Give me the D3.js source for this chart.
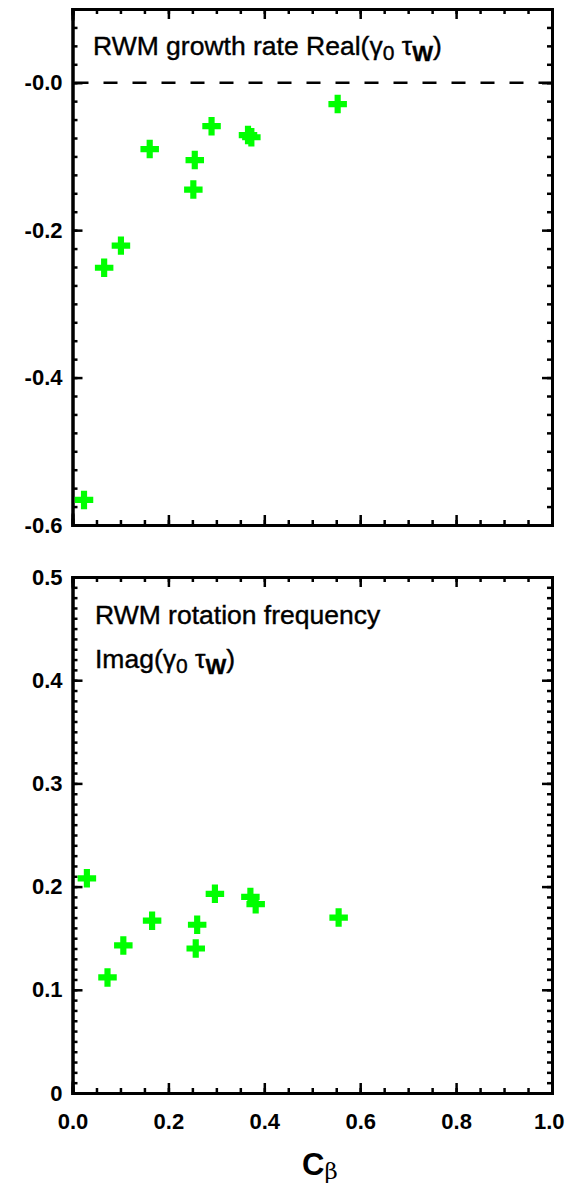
<!DOCTYPE html>
<html>
<head>
  <meta charset="utf-8">
  <title>RWM growth rate and rotation frequency vs C_beta</title>
  <script src="https://d3js.org/d3.v7.min.js"></script>
  <style>
    body { margin: 0; background: #fff; }
    text { font-family: "Liberation Sans", Arial, sans-serif; fill: #000; }
    .tick text { font-size: 22px; font-weight: bold; }
    .title { font-size: 26.5px; stroke: #000; stroke-width: 0.4px; }
    .axis path, .axis line { stroke: #000; }
  </style>
</head>
<body>
<script>
// C_beta values for each panel
const cbetaReal = [0.024, 0.066, 0.101, 0.161, 0.252, 0.255, 0.290, 0.366, 0.373, 0.553];
// Real(gamma0 tauW)
const growthRate = [-0.566, -0.251, -0.221, -0.090, -0.145, -0.105, -0.059, -0.071, -0.074, -0.029];

const cbetaImag = [0.030, 0.073, 0.106, 0.166, 0.257, 0.260, 0.297, 0.371, 0.382, 0.555];
// Imag(gamma0 tauW)
const rotFreq = [0.208, 0.112, 0.143, 0.167, 0.140, 0.163, 0.193, 0.190, 0.183, 0.170];

const xTicks = [0, 0.2, 0.4, 0.6, 0.8, 1.0];
const yTicksTop = [0, -0.2, -0.4, -0.6];
const yTicksBottom = [0, 0.1, 0.2, 0.3, 0.4, 0.5];

const W = 565, H = 1183;
const left = 72.5, right = 552;

const svg = d3.select("body").append("svg")
  .attr("width", W).attr("height", H);

const x = d3.scaleLinear().domain([0, 1]).range([left, right]);
const xMinor = d3.range(0, 1.0001, 0.05);

function drawPanel(top, bottom, yDomain, yTicks, yMinorStep, fmt, showX) {
  const y = d3.scaleLinear().domain(yDomain).range([bottom, top]);
  const yMinor = d3.range(yDomain[0], yDomain[1] + 1e-6, yMinorStep);

  const g = svg.append("g");

  // minor ticks on all four sides
  g.append("g").attr("class", "axis").attr("transform", `translate(0,${bottom})`)
    .call(d3.axisBottom(x).tickValues(xMinor).tickSize(-5).tickFormat(""));
  g.append("g").attr("class", "axis").attr("transform", `translate(0,${top})`)
    .call(d3.axisTop(x).tickValues(xMinor).tickSize(-5).tickFormat(""));
  g.append("g").attr("class", "axis").attr("transform", `translate(${left},0)`)
    .call(d3.axisLeft(y).tickValues(yMinor).tickSize(-5).tickFormat(""));
  g.append("g").attr("class", "axis").attr("transform", `translate(${right},0)`)
    .call(d3.axisRight(y).tickValues(yMinor).tickSize(-5).tickFormat(""));

  // major ticks
  const xb = g.append("g").attr("class", "axis").attr("transform", `translate(0,${bottom})`)
    .call(d3.axisBottom(x).tickValues(xTicks).tickSize(-10).tickPadding(20)
      .tickFormat(showX ? (d => d.toFixed(1)) : ""));
  // last label kept inside the page, like the original
  xb.selectAll(".tick text").filter(d => d === 1).attr("text-anchor", "end").attr("x", 12);
  g.append("g").attr("class", "axis").attr("transform", `translate(0,${top})`)
    .call(d3.axisTop(x).tickValues(xTicks).tickSize(-10).tickFormat(""));
  g.append("g").attr("class", "axis").attr("transform", `translate(${left},0)`)
    .call(d3.axisLeft(y).tickValues(yTicks).tickSize(-10).tickPadding(10).tickFormat(fmt));
  g.append("g").attr("class", "axis").attr("transform", `translate(${right},0)`)
    .call(d3.axisRight(y).tickValues(yTicks).tickSize(-10).tickFormat(""));

  g.selectAll(".axis path").attr("stroke-width", 3).attr("stroke-linecap", "square");
  g.selectAll(".axis line").attr("stroke-width", 2.5);
  g.selectAll(".axis text").attr("fill", "#000");

  return { g, y };
}

// ---- top panel: growth rate
const topP = drawPanel(9, 525, [-0.6, 0.1], yTicksTop, 0.025,
  d => (d <= 0 ? "-" : "") + Math.abs(d).toFixed(1), false);

topP.g.append("line")
  .attr("x1", x(0) + 2).attr("x2", x(1))
  .attr("y1", topP.y(0)).attr("y2", topP.y(0))
  .attr("stroke", "#000").attr("stroke-width", 2.5)
  .attr("stroke-dasharray", "14,15");

const t1 = topP.g.append("text").attr("class", "title").attr("x", 93).attr("y", 55);
t1.append("tspan").text("RWM growth rate Real(");
t1.append("tspan").text("γ");
t1.append("tspan").attr("dy", 5).attr("font-size", 21).text("0");
t1.append("tspan").attr("dy", -5).text(" τ");
t1.append("tspan").attr("dy", 6).attr("font-size", 22).attr("font-weight", "bold").text("W");
t1.append("tspan").attr("dy", -6).text(")");

topP.g.selectAll(".pt")
  .data(cbetaReal.map((c, i) => [c, growthRate[i]]))
  .join("path")
  .attr("d", d3.symbol(d3.symbolCross, 190))
  .attr("transform", d => `translate(${x(d[0])},${topP.y(d[1])})`)
  .attr("fill", "#00ff00");

// ---- bottom panel: rotation frequency
const botP = drawPanel(577, 1093, [0, 0.5], yTicksBottom, 0.01,
  d => d === 0 ? "0" : d.toFixed(1), true);

botP.g.append("text").attr("class", "title").attr("x", 95).attr("y", 624)
  .text("RWM rotation frequency");
const t3 = botP.g.append("text").attr("class", "title").attr("x", 95).attr("y", 668);
t3.append("tspan").text("Imag(");
t3.append("tspan").text("γ");
t3.append("tspan").attr("dy", 5).attr("font-size", 21).text("0");
t3.append("tspan").attr("dy", -5).text(" τ");
t3.append("tspan").attr("dy", 6).attr("font-size", 22).attr("font-weight", "bold").text("W");
t3.append("tspan").attr("dy", -6).text(")");

botP.g.selectAll(".pt")
  .data(cbetaImag.map((c, i) => [c, rotFreq[i]]))
  .join("path")
  .attr("d", d3.symbol(d3.symbolCross, 190))
  .attr("transform", d => `translate(${x(d[0])},${botP.y(d[1])})`)
  .attr("fill", "#00ff00");

// x label
const xl = svg.append("text").attr("x", 302).attr("y", 1175)
  .attr("font-size", 31).attr("font-weight", "bold");
xl.append("tspan").text("C");
xl.append("tspan").attr("dy", 4).attr("font-size", 23).attr("font-weight", "normal")
  .attr("font-family", "DejaVu Serif, serif").text("β");
</script>
</body>
</html>
